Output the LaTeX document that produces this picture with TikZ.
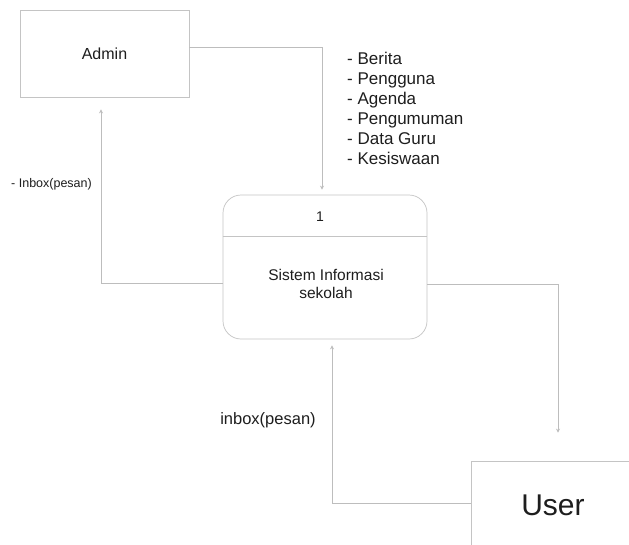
\documentclass[tikz,border=0pt]{standalone}
\usepackage{fontspec}
\setmainfont{Liberation Sans}
\usetikzlibrary{arrows.meta}
\definecolor{linegray}{HTML}{BDBDBD}
\definecolor{boxgray}{HTML}{C4C4C4}
\definecolor{txt}{HTML}{1E1E1E}
\newcommand{\fs}[2]{\fontsize{#1pt}{#2pt}\selectfont}
\begin{document}
\begin{tikzpicture}[x=1pt,y=-1pt,
  entity/.style={draw=boxgray,line width=0.7pt,inner sep=0pt,text=txt},
  proc/.style={draw=boxgray,line width=0.7pt,rounded corners=18pt,inner sep=0pt},
  flow/.style={draw=linegray,line width=0.6pt,-{Stealth[length=4pt,width=4pt]}},
  lbl/.style={text=txt,inner sep=0pt}]
\useasboundingbox (0,0) rectangle (629,544);
\clip (0,0) rectangle (629,544);
\fill[white] (0,0) rectangle (629,544);
% nodes
\node[entity,minimum width=169pt,minimum height=87pt,font=\fs{16}{19}] (admin) at (104.5,53.5) {Admin};
\node[proc,minimum width=204pt,minimum height=144pt] (sis) at (325,267) {};
\node[lbl,font=\fs{14}{17}] (num) at (320,217) {1};
\draw[boxgray,line width=0.7pt] (sis.west |- 0,236) coordinate (dl) -- (sis.east |- 0,236) coordinate (dr);
\node[lbl,align=center,font=\fs{15.5}{18}] (sistxt) at (326,284) {Sistem Informasi\\sekolah};
\node[entity,minimum width=164pt,minimum height=88pt,font=\fs{30}{34}] (user) at (553,505) {User};
% labels
\node[lbl,align=left,anchor=north west,font=\fs{17}{20}] (list) at (347,51.5) {- Berita\\- Pengguna\\- Agenda\\- Pengumuman\\- Data Guru\\- Kesiswaan};
\node[lbl,font=\fs{12.5}{15}] (inb1) at (51.5,184) {- Inbox(pesan)};
\node[lbl,font=\fs{16.5}{19}] (inb2) at (268,420) {inbox(pesan)};
% connectors
\coordinate (c1) at (322,47);
\draw[flow,shorten >=5pt] (admin.east |- c1) -- (c1) -- (c1 |- sis.north);
\coordinate (c2) at (101,283);
\draw[flow,shorten >=12pt] (sis.west |- c2) -- (c2) -- (c2 |- admin.south);
\coordinate (c3) at (558,284);
\draw[flow,shorten >=28pt] (sis.east |- c3) -- (c3) -- (c3 |- user.north);
\coordinate (c4) at (332,503);
\draw[flow,shorten >=6pt] (user.west |- c4) -- (c4) -- (c4 |- sis.south);
\end{tikzpicture}
\end{document}
